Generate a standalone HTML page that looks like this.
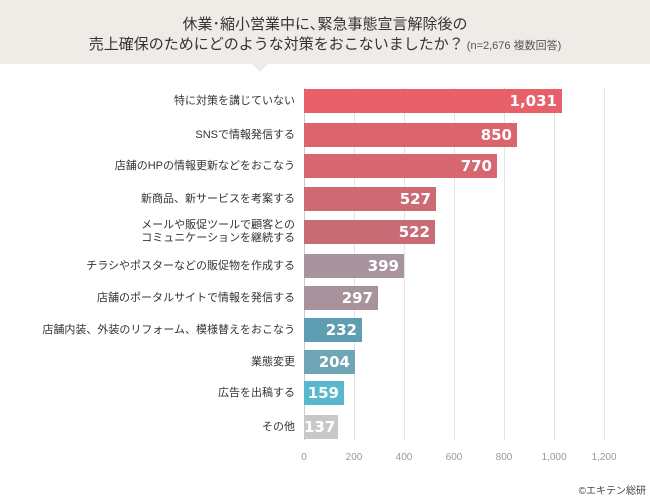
<!DOCTYPE html>
<html><head><meta charset="utf-8"><style>
body{margin:0;width:650px;height:495px;background:#fff;font-family:"Liberation Sans","Noto Sans CJK JP",sans-serif;position:relative;overflow:hidden}
.hd{position:absolute;left:0;top:0;width:650px;height:64px;background:#efece8}
.tri{position:absolute;left:252px;top:64px;width:0;height:0;border-left:8px solid transparent;border-right:8px solid transparent;border-top:8px solid #efece8}
.t{position:absolute;width:650px;text-align:center;color:#333;font-size:15px}
.g{position:absolute;top:88px;height:352px;width:1px;background:#e3e3e3}
.tk{position:absolute;top:452px;width:40px;margin-left:-20px;text-align:center;font-size:10px;color:#999}
.l{position:absolute;right:355px;font-size:11px;color:#333;text-align:right;line-height:13px}
.b{position:absolute;left:304px;height:24px;color:#fff;font-weight:bold;font-size:15px;text-align:right;box-sizing:border-box;padding-right:5px;line-height:24px;font-family:"DejaVu Sans",sans-serif}
</style></head><body>
<div class="hd"></div><div class="tri"></div>
<div class="t" style="top:13px">休業･縮小営業中に､緊急事態宣言解除後の</div>
<div class="t" style="top:33px">売上確保のためにどのような対策をおこないましたか？<span style="font-size:11px;color:#555"> (n=2,676 複数回答)</span></div>
<div class="g" style="left:304px;background:#ccc"></div>
<div class="g" style="left:354px"></div><div class="g" style="left:404px"></div><div class="g" style="left:454px"></div><div class="g" style="left:504px"></div><div class="g" style="left:554px"></div><div class="g" style="left:604px"></div>
<div class="tk" style="left:304px">0</div><div class="tk" style="left:354px">200</div><div class="tk" style="left:404px">400</div><div class="tk" style="left:454px">600</div><div class="tk" style="left:504px">800</div><div class="tk" style="left:554px">1,000</div><div class="tk" style="left:604px">1,200</div>

<div class="b" style="top:89px;width:258px;background:#e8606a">1,031</div><div class="l" style="top:95px">特に対策を講じていない</div>
<div class="b" style="top:123px;width:213px;background:#db646e">850</div><div class="l" style="top:129px">SNSで情報発信する</div>
<div class="b" style="top:154px;width:193px;background:#d86670">770</div><div class="l" style="top:160px">店舗のHPの情報更新などをおこなう</div>
<div class="b" style="top:187px;width:132px;background:#cd6a74">527</div><div class="l" style="top:193px">新商品、新サービスを考案する</div>
<div class="b" style="top:220px;width:131px;background:#c96b75">522</div><div class="l" style="top:219px">メールや販促ツールで顧客との<br>コミュニケーションを継続する</div>
<div class="b" style="top:254px;width:100px;background:#a8949e">399</div><div class="l" style="top:260px">チラシやポスターなどの販促物を作成する</div>
<div class="b" style="top:286px;width:74px;background:#a8929c">297</div><div class="l" style="top:292px">店舗のポータルサイトで情報を発信する</div>
<div class="b" style="top:318px;width:58px;background:#5f9db2">232</div><div class="l" style="top:324px">店舗内装、外装のリフォーム、模様替えをおこなう</div>
<div class="b" style="top:350px;width:51px;background:#6fa6b6">204</div><div class="l" style="top:356px">業態変更</div>
<div class="b" style="top:381px;width:40px;background:#5ab8cc">159</div><div class="l" style="top:387px">広告を出稿する</div>
<div class="b" style="top:415px;width:34px;background:#c8c8c8">137</div><div class="l" style="top:421px">その他</div>
<div style="position:absolute;right:4px;top:482px;font-size:10px;color:#444">©エキテン総研</div>
</body></html>
